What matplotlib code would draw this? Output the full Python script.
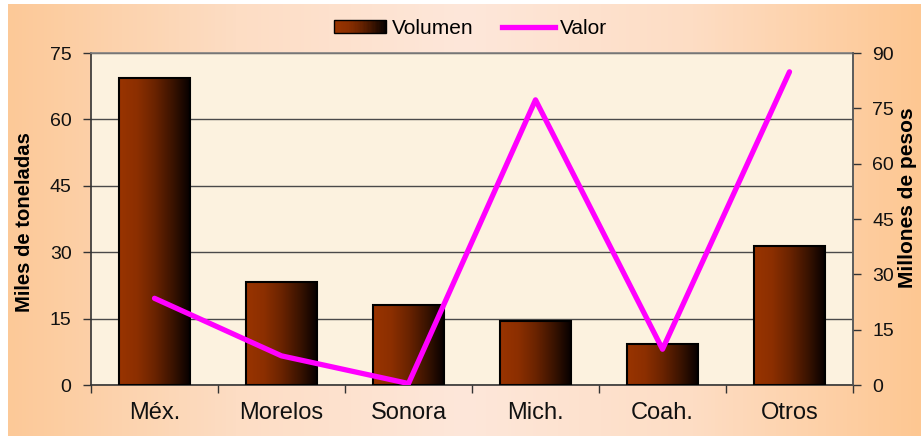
import matplotlib
matplotlib.use("Agg")
import matplotlib.pyplot as plt
import numpy as np
from matplotlib.colors import LinearSegmentedColormap
from matplotlib.legend_handler import HandlerBase
from matplotlib.patches import Rectangle, Patch
from matplotlib.lines import Line2D

plt.rcParams['font.family'] = ['Liberation Sans', 'DejaVu Sans']

categorias = ['Méx.', 'Morelos', 'Sonora', 'Mich.', 'Coah.', 'Otros']
volumen = [69.3, 23.3, 18.1, 14.5, 9.3, 31.3]   # Miles de toneladas
valor = [23.5, 7.9, 0.4, 77.3, 9.7, 84.9]       # Millones de pesos
yticks_left = [0, 15, 30, 45, 60, 75]
yticks_right = [0, 15, 30, 45, 60, 75, 90]

W, H = 921, 436
fig = plt.figure(figsize=(W / 100, H / 100), dpi=100, facecolor='white')

# figure background gradient
bg_cmap = LinearSegmentedColormap.from_list(
    'bg', ['#FCC998', '#FDDDC4', '#FDE7DA', '#FDDDC4', '#FDC792'])
ax_bg = fig.add_axes([8 / W, 0, 1 - 8 / W, 1 - 4 / H], zorder=-10)
ax_bg.imshow(np.linspace(0, 1, 256).reshape(1, -1), aspect='auto', cmap=bg_cmap,
             extent=[0, 1, 0, 1])
ax_bg.axis('off')

bar_cmap = LinearSegmentedColormap.from_list(
    'bar', ['#993400', '#8C2F00', '#6A2300', '#3A1300', '#050000'])

left, right, top, bottom = 91, 853, 53, 385
ax = fig.add_axes([left / W, 1 - bottom / H, (right - left) / W, (bottom - top) / H])
ax.set_facecolor('#FCF2DF')

x = np.arange(len(categorias))
bars = ax.bar(x, volumen, width=0.56, facecolor='none', edgecolor='#000000',
              linewidth=1.5, zorder=3)
grad = np.linspace(0, 1, 256).reshape(1, -1)
for b in bars:
    bx, by, bw, bh = b.get_x(), b.get_y(), b.get_width(), b.get_height()
    im = ax.imshow(grad, extent=[bx, bx + bw, by, by + bh], aspect='auto',
                   cmap=bar_cmap, zorder=2.5, interpolation='bilinear')
    im.set_clip_path(b)

ax.set_xlim(-0.5, len(categorias) - 0.5)
ax.set_ylim(0, 75)
ax.set_yticks(yticks_left)
ax.set_yticklabels([str(v) for v in yticks_left])
ax.yaxis.grid(True, color='#4a4a4a', linewidth=1.0, zorder=1)
ax.set_axisbelow(True)

ax.set_xticks(np.arange(-0.5, len(categorias), 1.0))
ax.set_xticklabels([])
ax.set_xticks(x, minor=True)
ax.set_xticklabels(categorias, minor=True, fontsize=17, color='#111111')
ax.tick_params(axis='x', which='minor', length=0, pad=12)
ax.tick_params(axis='x', which='major', length=6, width=1, color='#333333', direction='out')
ax.tick_params(axis='y', length=6, width=1, color='#333333', pad=8, labelsize=14,
               labelcolor='#111111')

for s in ['left', 'bottom']:
    ax.spines[s].set_color('#333333')
    ax.spines[s].set_linewidth(1.2)
for s in ['top', 'right']:
    ax.spines[s].set_color('#808080')
    ax.spines[s].set_linewidth(1.2)

fig.text(25 / W, 1 - 222 / H, 'Miles de toneladas', rotation=90, ha='center',
         va='center', fontsize=14.6, fontweight='bold', color='#000000')

ax2 = ax.twinx()
ax2.plot(x, valor, color='#FF00FF', linewidth=3.8, solid_capstyle='round',
         solid_joinstyle='round', zorder=5)
ax2.set_ylim(0, 90)
ax2.set_yticks(yticks_right)
ax2.set_yticklabels([str(v) for v in yticks_right])
ax2.tick_params(axis='y', length=6, width=1, color='#333333', pad=8, labelsize=14,
                labelcolor='#111111')
for s in ax2.spines.values():
    s.set_visible(False)
ax2.spines['right'].set_visible(True)
ax2.spines['right'].set_color('#555555')
ax2.spines['right'].set_linewidth(1.2)

fig.text(907 / W, 1 - 198 / H, 'Millones de pesos', rotation=90, ha='center',
         va='center', fontsize=15, fontweight='bold', color='#000000')


class GradHandler(HandlerBase):
    def create_artists(self, legend, orig_handle, xdescent, ydescent, width, height,
                       fontsize, trans):
        n = 40
        arts = []
        for i in range(n):
            r = Rectangle((-xdescent + i * width / n, -ydescent), width / n + 0.3, height,
                          facecolor=bar_cmap(i / (n - 1)), edgecolor='none',
                          transform=trans)
            arts.append(r)
        arts.append(Rectangle((-xdescent, -ydescent), width, height, facecolor='none',
                              edgecolor='#000000', linewidth=1.0, transform=trans))
        return arts


h_vol = Patch(facecolor='#6A2300', edgecolor='black', label='Volumen')
h_val = Line2D([0], [0], color='#FF00FF', linewidth=3.8, label='Valor')
fig.legend(handles=[h_vol, h_val], labels=['Volumen', 'Valor'],
           handler_map={Patch: GradHandler()},
           loc='center', bbox_to_anchor=(0.511, 0.935), ncol=2, frameon=False,
           fontsize=15, handlelength=2.5, handleheight=0.6, handletextpad=0.25,
           columnspacing=1.4)

fig.savefig('out.png', dpi=100, facecolor=fig.get_facecolor())
